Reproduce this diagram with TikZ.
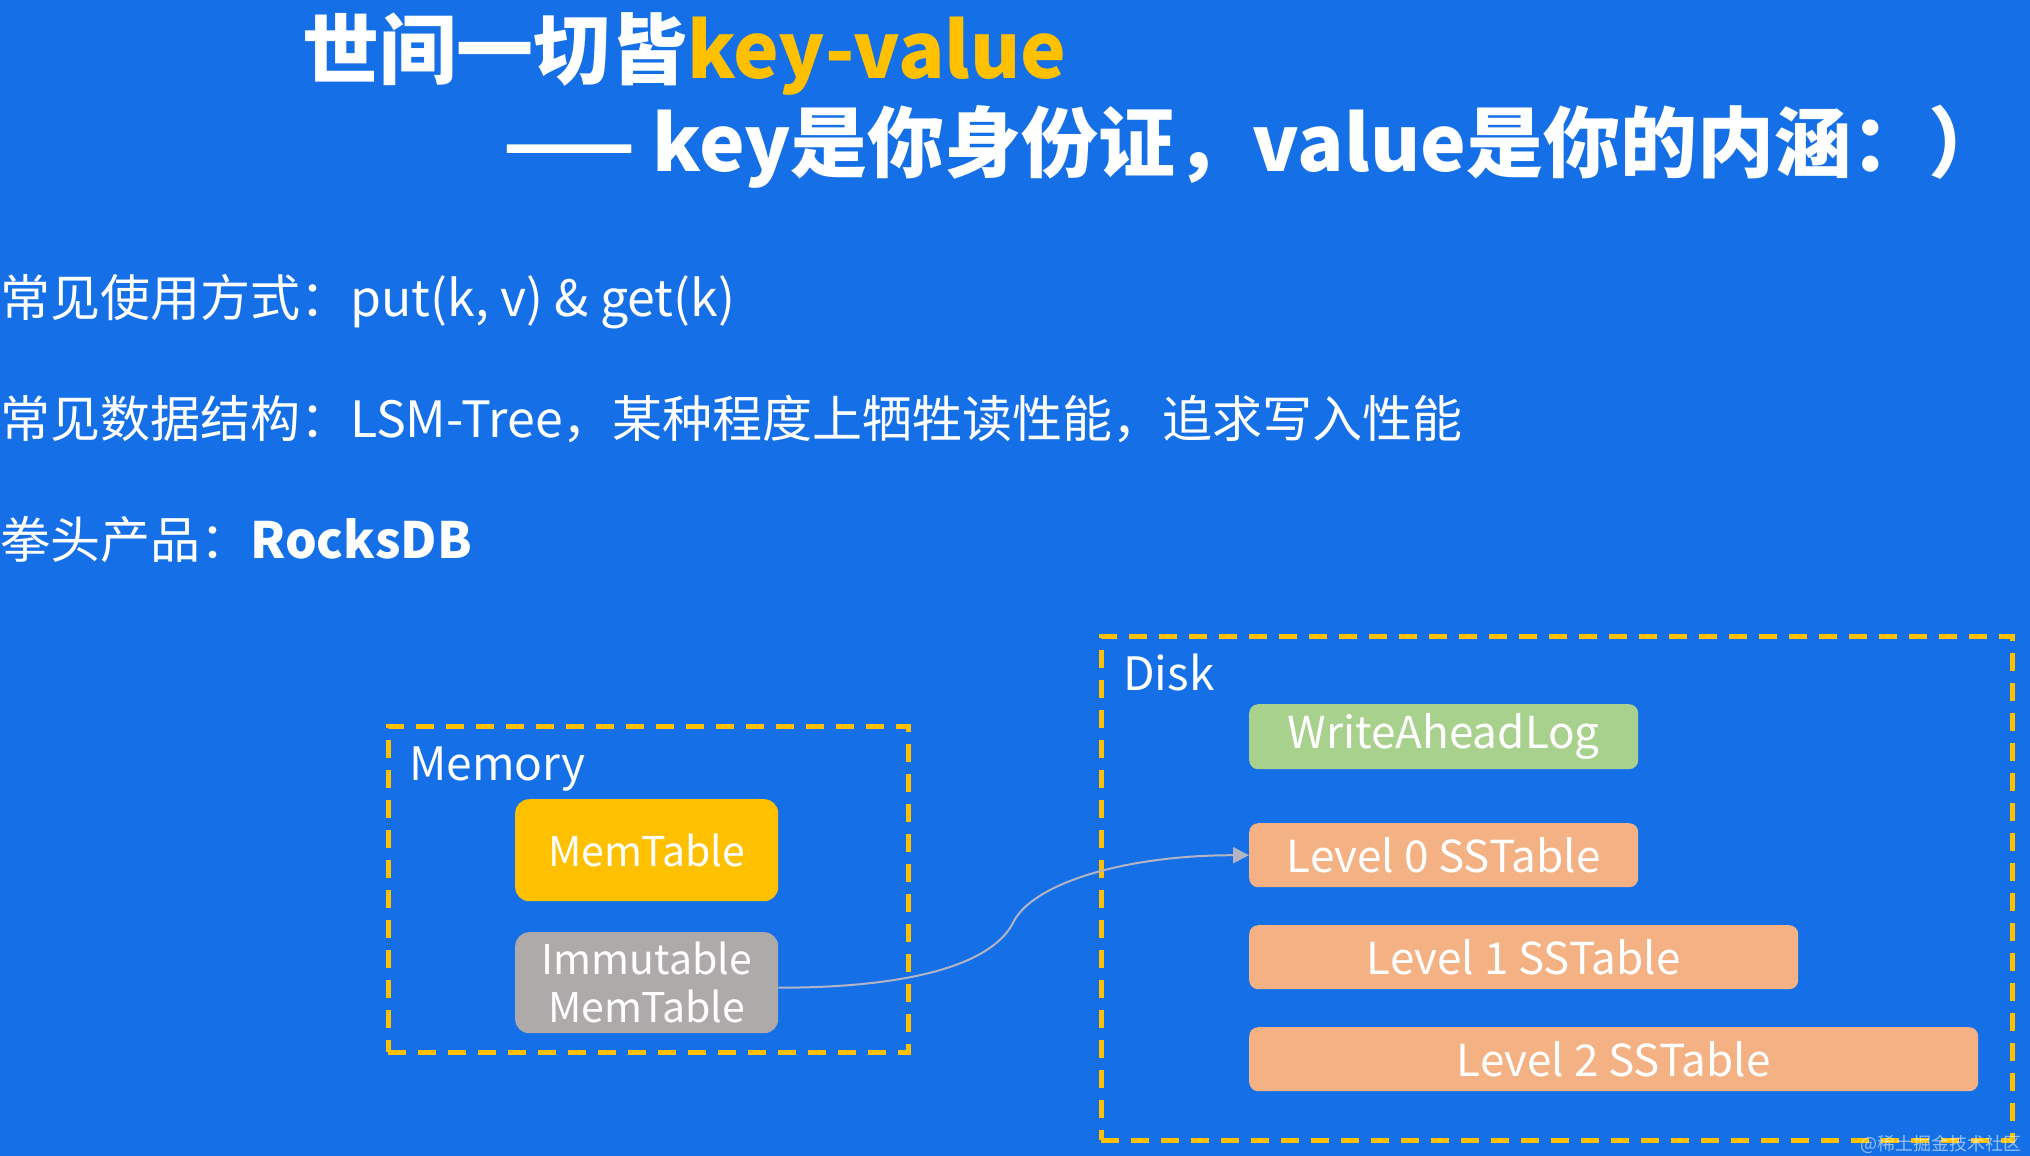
\documentclass[tikz,border=0pt]{standalone}
\usepackage{fontspec}
\setmainfont{Noto Sans CJK SC}
\usepackage{xcolor}
\usetikzlibrary{arrows.meta,positioning,calc}
\definecolor{slideblue}{RGB}{21,112,232}
\definecolor{keyyellow}{RGB}{255,192,0}
\definecolor{walgreen}{RGB}{169,209,142}
\definecolor{sstorange}{RGB}{244,177,131}
\definecolor{immgray}{RGB}{174,170,170}
\definecolor{linkgray}{RGB}{178,180,196}
\tikzset{
  headline/.style={
    anchor=base west,
    inner sep=0pt,
    text=white,
    font=\fontsize{77}{90}\selectfont\bfseries
  },
  bodyline/.style={
    anchor=base west,
    inner sep=0pt,
    text=white,
    font=\fontsize{50}{60}\selectfont
  },
  zonebox/.style={
    rectangle,
    draw=keyyellow,
    line width=4.5pt,
    dash pattern=on 18pt off 12pt,
    anchor=north west,
    inner sep=0pt
  },
  zonelabel/.style={
    anchor=base west,
    inner sep=0pt,
    text=white,
    font=\fontsize{46}{54}\selectfont
  },
  membox/.style={
    rectangle,
    rounded corners=14pt,
    anchor=north west,
    inner sep=0pt,
    minimum width=263pt,
    text=white,
    align=center,
    font=\fontsize{41}{48}\selectfont
  },
  diskbox/.style={
    rectangle,
    rounded corners=9pt,
    anchor=north west,
    inner sep=0pt,
    minimum height=64pt,
    text=white,
    align=center,
    font=\fontsize{44}{52}\selectfont
  },
  linkarrow/.style={
    -{Triangle[length=16pt,width=16pt]},
    line width=2pt,
    draw=linkgray
  }
}

\begin{document}
\begin{tikzpicture}[x=1pt,y=-1pt]
\useasboundingbox (0,0) rectangle (2030,1156);
\fill[slideblue] (0,0) rectangle (2030,1156);

\node[headline] (title) at (302,78) {世间一切皆\textcolor{keyyellow}{key-value}};
\node[headline] (motto) at (503,171) {—— key是你身份证，value是你的内涵：）};

\node[bodyline] (usage) at (0,316) {常见使用方式：put(k, v) \& get(k)};
\node[bodyline] (struct) at (0,437) {常见数据结构：LSM-Tree，某种程度上牺牲读性能，追求写入性能};
\node[bodyline] (product) at (0,558) {拳头产品：\textbf{RocksDB}};

\node[zonebox, minimum width=520pt, minimum height=326pt] (memzone) at (386,724) {};
\node[zonelabel] (memlabel) at (409,780) {Memory};
\node[membox, fill=keyyellow, minimum height=102pt] (memtable) at (515,799) {MemTable};
\node[membox, fill=immgray, minimum height=101pt] (immtable) at (515,932) {Immutable\\MemTable};

\node[zonebox, minimum width=911pt, minimum height=504pt] (diskzone) at (1099,634) {};
\node[zonelabel] (disklabel) at (1123,690) {Disk};
\node[diskbox, fill=walgreen, minimum width=389pt, minimum height=65pt] (wal) at (1249,704) {WriteAheadLog};
\node[diskbox, fill=sstorange, minimum width=389pt] (lvl0) at (1249,823) {Level 0 SSTable};
\node[diskbox, fill=sstorange, minimum width=549pt] (lvl1) at (1249,925) {Level 1 SSTable};
\node[diskbox, fill=sstorange, minimum width=729pt] (lvl2) at (1249,1027) {Level 2 SSTable};

\coordinate (linkstart) at ([yshift=-5pt]immtable.east);
\coordinate (bend) at ($(linkstart)!0.5!(lvl0.west)$);
\draw[linkarrow] (linkstart) .. controls +(135,0) and +(-20,42) .. (bend)
  .. controls +(20,-38) and +(-125,0) .. (lvl0.west);

\node[anchor=east, inner sep=0pt, text=white, opacity=0.55, font=\fontsize{18}{20}\selectfont] (mark) at (2022,1144) {@稀土掘金技术社区};
\end{tikzpicture}
\end{document}
